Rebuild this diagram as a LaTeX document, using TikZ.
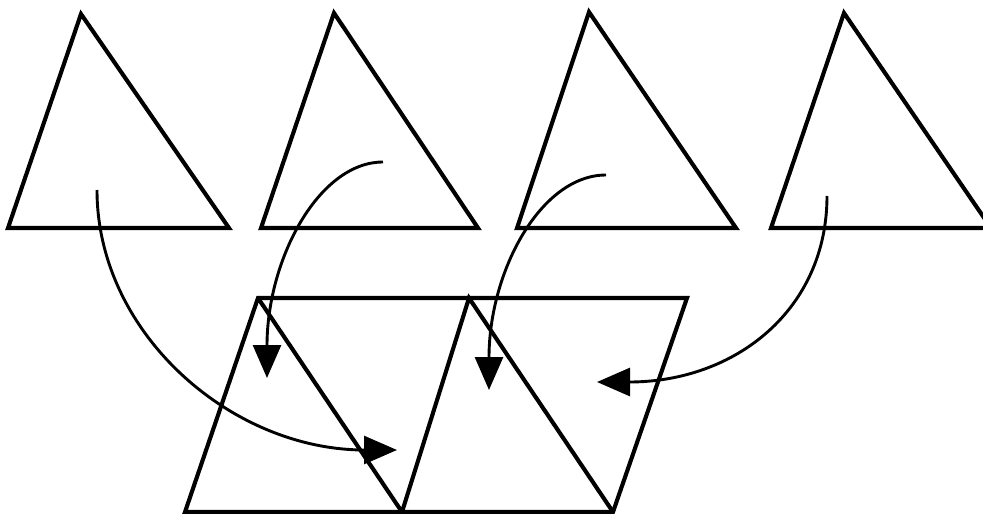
\documentclass[tikz,border=0pt]{standalone}
\usetikzlibrary{arrows.meta}
\begin{document}
\begin{tikzpicture}[x=1pt,y=-1pt,
  outline/.style={line width=4.1pt,line join=miter},
  mover/.style={line width=2.9pt,-{Triangle[length=33pt,width=28pt]}}]
\useasboundingbox (0,0) rectangle (983,514);
% top triangles
\coordinate (a1) at (81,14);  \coordinate (l1) at (8,228);   \coordinate (r1) at (229,228);
\coordinate (a2) at (334,13); \coordinate (l2) at (261,228); \coordinate (r2) at (478,228);
\coordinate (a3) at (589,12); \coordinate (l3) at (517,228); \coordinate (r3) at (736,228);
\coordinate (a4) at (844,13); \coordinate (l4) at (771,228); \coordinate (r4) at (991,228);
\draw[outline] (a1) -- (l1) -- (r1) -- cycle;
\draw[outline] (a2) -- (l2) -- (r2) -- cycle;
\draw[outline] (a3) -- (l3) -- (r3) -- cycle;
\draw[outline] (a4) -- (l4) -- (r4) -- cycle;
% parallelogram
\coordinate (p1) at (258,298); \coordinate (p2) at (469,298); \coordinate (p3) at (687,298);
\coordinate (q1) at (185,512); \coordinate (q2) at (402,512); \coordinate (q3) at (613,512);
\draw[outline] (p1) -- (p3) -- (q3) -- (q1) -- cycle;
\draw[outline] (p1) -- (q2) -- (p2) -- (q3);
% arrows
\coordinate (s1) at (97,190);  \coordinate (t1) at (397,450);
\coordinate (s2) at (383,162); \coordinate (t2) at (267,378);
\coordinate (s3) at (606,175); \coordinate (t3) at (489,390);
\coordinate (s4) at (827,196); \coordinate (t4) at (597,382);
\draw[mover] (s1) .. controls (97,333) and (231,450) .. (t1);
\draw[mover] (s2) .. controls (319,162) and (267,259) .. (t2);
\draw[mover] (s3) .. controls (541,175) and (489,271) .. (t3);
\draw[mover] (s4) .. controls (827,310) and (735,382) .. (t4);
\end{tikzpicture}
\end{document}
